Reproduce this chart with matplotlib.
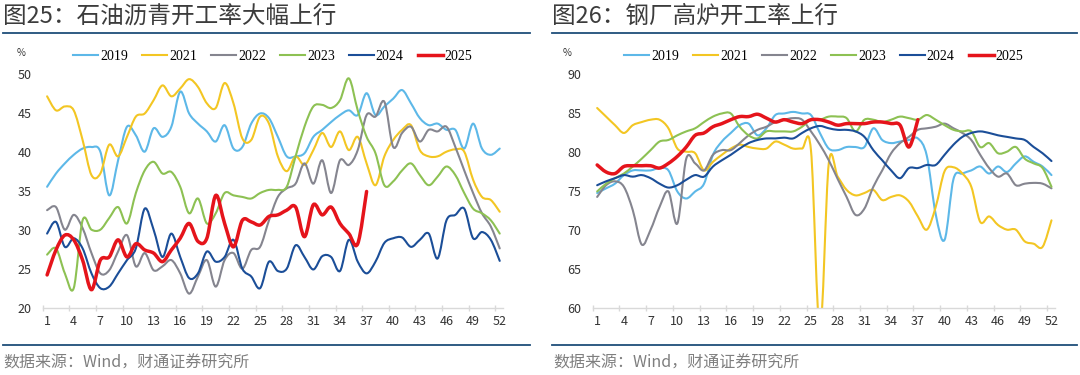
import numpy as np
import matplotlib
matplotlib.use("Agg")
import matplotlib.pyplot as plt
from matplotlib.path import Path
from matplotlib.patches import PathPatch
from matplotlib.lines import Line2D

plt.rcParams['font.family'] = ['Noto Sans CJK SC', 'DejaVu Sans']

# -------------------------------
# Data (weekly, %)
# -------------------------------

weeks = list(range(1, 53))
week_ticks = list(range(1, 53, 3))
years = ["2019", "2021", "2022", "2023", "2024", "2025"]

# 石油沥青开工率
asphalt_2019 = [35.5, 37.2, 38.5, 39.6, 40.4, 40.6, 40.0, 34.4, 38.9, 43.2,
                42.1, 40.0, 43.0, 41.9, 43.2, 47.7, 44.9, 43.6, 42.6, 41.3,
                43.4, 40.4, 40.6, 43.6, 44.9, 44.3, 41.9, 39.4, 39.4, 39.8,
                41.9, 42.8, 43.8, 44.7, 45.3, 44.7, 47.5, 44.7, 45.8, 46.8,
                47.9, 46.2, 44.3, 43.4, 43.6, 42.8, 42.8, 40.4, 43.6, 40.4,
                39.6, 40.4]
asphalt_2021 = [47.1, 45.3, 45.8, 45.3, 41.5, 37.0, 37.2, 40.9, 39.4, 41.9,
                44.5, 44.9, 46.6, 48.5, 47.1, 48.1, 49.3, 48.3, 46.2, 45.6,
                48.8, 46.2, 41.7, 41.5, 44.5, 43.6, 39.4, 37.5, 39.4, 38.3,
                40.2, 42.4, 40.6, 42.6, 40.2, 41.9, 38.5, 35.7, 39.4, 41.5,
                42.8, 43.4, 40.2, 39.4, 39.4, 40.0, 40.3, 40.0, 36.4, 34.2,
                33.8, 32.3]
asphalt_2022 = [32.5, 32.9, 30.0, 31.9, 30.2, 27.0, 24.4, 24.8, 27.2, 29.3,
                25.3, 27.0, 24.8, 25.3, 26.1, 24.4, 21.8, 24.0, 26.1, 22.7,
                26.1, 27.0, 25.0, 27.4, 27.8, 31.2, 34.2, 35.3, 35.9, 38.5,
                35.9, 38.9, 34.7, 38.9, 38.3, 40.2, 44.7, 44.5, 46.4, 40.6,
                42.4, 43.2, 41.3, 42.8, 42.6, 43.2, 40.6, 37.6, 34.7, 32.1,
                30.4, 27.6]
asphalt_2023 = [26.8, 27.6, 24.4, 22.5, 31.2, 30.0, 30.0, 31.5, 32.9, 30.8,
                34.7, 37.6, 38.7, 37.2, 37.4, 35.5, 32.1, 34.0, 30.8, 32.1,
                34.7, 34.4, 34.2, 34.0, 34.7, 35.1, 35.1, 35.5, 39.4, 43.2,
                45.8, 46.0, 45.6, 46.6, 49.4, 45.3, 41.9, 39.8, 35.7, 36.2,
                37.6, 38.5, 37.0, 35.7, 36.8, 38.1, 37.0, 34.7, 32.7, 32.1,
                31.2, 29.5]
asphalt_2024 = [29.5, 31.0, 27.8, 28.9, 27.6, 24.4, 22.5, 22.7, 24.4, 26.1,
                27.6, 32.7, 30.0, 26.5, 29.5, 26.5, 23.8, 24.4, 27.2, 25.9,
                26.5, 28.7, 25.0, 24.0, 22.5, 25.9, 24.7, 25.0, 28.0, 26.5,
                24.9, 26.6, 26.5, 24.7, 28.7, 25.9, 24.4, 25.9, 28.3, 28.9,
                29.0, 27.8, 28.7, 29.5, 26.3, 31.2, 31.9, 32.7, 28.9, 29.7,
                28.7, 26.0]
asphalt_2025 = [24.2, 27.4, 29.3, 28.7, 26.1, 22.3, 26.1, 26.5, 28.7, 26.5,
                28.2, 27.4, 27.0, 25.9, 27.4, 28.9, 30.8, 28.5, 28.9, 34.4,
                30.8, 27.8, 31.2, 31.0, 30.6, 31.7, 31.9, 32.5, 32.9, 29.1,
                33.2, 31.9, 32.9, 30.8, 29.5, 28.2, 34.9]

# 钢厂高炉开工率
blast_2019 = [74.7, 75.3, 75.9, 77.0, 77.6, 77.6, 77.6, 77.9, 77.6, 74.9,
              74.0, 74.9, 75.9, 79.6, 81.3, 82.4, 83.4, 83.6, 82.1, 83.0,
              84.7, 84.9, 85.1, 84.9, 84.7, 82.4, 80.4, 80.2, 80.6, 80.6,
              80.6, 83.0, 81.5, 81.1, 81.3, 81.5, 81.7, 79.5, 72.0, 68.7,
              76.5, 77.2, 77.6, 78.1, 77.2, 78.1, 77.4, 78.5, 79.4, 78.7,
              78.1, 77.0]
blast_2021 = [85.6, 84.5, 83.4, 82.4, 83.4, 83.8, 84.1, 84.1, 83.0, 80.4,
              80.0, 79.8, 77.6, 78.7, 79.6, 80.4, 80.9, 80.6, 80.4, 80.4,
              81.3, 80.9, 80.4, 80.4, 80.2, 57.0, 78.5, 76.8, 75.1, 74.4,
              74.7, 75.1, 73.8, 74.2, 74.4, 73.6, 71.7, 70.0, 72.9, 77.5,
              78.0, 77.2, 75.5, 71.0, 71.7, 70.6, 70.0, 70.0, 68.5, 68.2,
              67.8, 71.2]
blast_2022 = [74.2, 75.7, 76.2, 75.5, 72.5, 68.1, 70.0, 72.9, 74.9, 70.8,
              79.1, 78.5, 77.6, 79.6, 80.2, 80.2, 81.1, 82.1, 82.8, 83.2,
              83.8, 84.1, 84.3, 84.1, 82.6, 80.9, 78.9, 76.5, 74.2, 71.9,
              72.7, 75.5, 77.6, 79.8, 81.1, 81.9, 82.8, 83.0, 83.2, 83.6,
              83.0, 82.4, 81.5, 79.6, 77.9, 76.8, 77.2, 75.7, 75.9, 76.0,
              75.9, 75.3]
blast_2023 = [74.9, 75.9, 76.6, 77.2, 78.1, 79.1, 80.2, 81.3, 81.5, 82.1,
              82.6, 83.0, 83.8, 84.5, 84.9, 84.9, 83.2, 82.1, 81.7, 82.6,
              82.6, 82.6, 82.6, 83.2, 84.1, 84.1, 84.5, 84.5, 84.3, 82.6,
              84.1, 84.1, 83.8, 84.1, 84.5, 84.3, 84.1, 84.7, 84.1, 83.4,
              82.8, 82.6, 82.6, 80.6, 81.1, 79.8, 80.0, 80.6, 79.1, 78.5,
              77.9, 75.5]
blast_2024 = [75.7, 76.2, 76.6, 77.0, 76.8, 77.0, 76.6, 75.9, 75.4, 75.7,
              76.4, 77.0, 76.8, 78.1, 78.9, 79.6, 80.4, 81.1, 81.5, 81.7,
              81.7, 81.8, 81.7, 82.4, 83.0, 83.3, 83.0, 82.8, 82.8, 82.6,
              81.9, 80.2, 78.9, 77.6, 76.6, 77.9, 77.9, 78.3, 78.3, 79.6,
              80.9, 81.9, 82.4, 82.6, 82.4, 82.1, 81.9, 81.7, 81.5, 80.6,
              79.8, 78.8]
blast_2025 = [78.3, 77.4, 77.2, 78.1, 78.2, 78.2, 78.2, 77.9, 78.5, 79.4,
              80.6, 82.1, 82.4, 83.2, 83.6, 84.1, 84.5, 84.5, 84.8, 84.3,
              83.8, 84.1, 83.8, 83.6, 84.1, 84.1, 83.8, 83.4, 83.6, 83.6,
              83.6, 83.8, 83.8, 83.6, 83.4, 80.6, 84.1]

asphalt_series = [asphalt_2019, asphalt_2021, asphalt_2022,
                  asphalt_2023, asphalt_2024, asphalt_2025]
blast_series = [blast_2019, blast_2021, blast_2022,
                blast_2023, blast_2024, blast_2025]

colors = ["#5db8e8", "#f3c623", "#85858f", "#8dc153", "#1b4e98", "#e5141b"]
widths = [1.5, 1.5, 1.5, 1.5, 1.5, 2.5]


# -------------------------------
# Smoothed line (Excel style)
# -------------------------------

def smooth_path(x, y):
    pts = np.column_stack([np.asarray(x, float), np.asarray(y, float)])
    n = len(pts)
    verts = [pts[0]]
    codes = [Path.MOVETO]
    for i in range(n - 1):
        p0 = pts[max(i - 1, 0)]
        p1 = pts[i]
        p2 = pts[i + 1]
        p3 = pts[min(i + 2, n - 1)]
        verts += [p1 + (p2 - p0) / 6, p2 - (p3 - p1) / 6, p2]
        codes += [Path.CURVE4] * 3
    return Path(verts, codes)


def draw_panel(ax, series, ylim, yticks):
    for vals, c, lw in zip(series, colors, widths):
        path = smooth_path(weeks[:len(vals)], vals)
        ax.add_patch(PathPatch(path, fill=False, edgecolor=c, lw=lw,
                               capstyle="round", joinstyle="round"))
    ax.set_xlim(0.55, 52.4)
    ax.set_ylim(*ylim)
    ax.set_yticks(yticks)
    ax.set_xticks(week_ticks)
    ax.set_xticks([w - 0.5 for w in week_ticks], minor=True)
    for s in ["left", "right", "top"]:
        ax.spines[s].set_visible(False)
    ax.spines["bottom"].set_color("#d9d9d9")
    ax.spines["bottom"].set_linewidth(1)
    ax.tick_params(axis="x", which="major", length=0, pad=5,
                   labelsize=9, labelcolor="#333333")
    ax.tick_params(axis="x", which="minor", length=4, direction="inout",
                   color="#d9d9d9", width=1)
    ax.tick_params(axis="y", length=0, pad=8, labelsize=9,
                   labelcolor="#333333")

    handles = [Line2D([], [], color=c, lw=lw) for c, lw in zip(colors, widths)]
    ax.legend(handles, years, loc="center", bbox_to_anchor=(0.5, 1.075),
              ncol=6, frameon=False, handlelength=1.8, handletextpad=0.15,
              columnspacing=1.0, prop={"family": "Liberation Serif", "size": 10})


# -------------------------------
# Figure
# -------------------------------

fig = plt.figure(figsize=(10.8, 3.75), dpi=100)

ax1 = fig.add_axes([0.0395, 0.1795, 0.4265, 0.624])
ax2 = fig.add_axes([0.5488, 0.1795, 0.4281, 0.624])

draw_panel(ax1, asphalt_series, (20, 50), range(20, 51, 5))
draw_panel(ax2, blast_series, (60, 90), range(60, 91, 5))

rule = "#1f4e79"
H = 375.0
W = 1080.0
for x0, x1 in [(3, 530), (552, 1077)]:
    fig.add_artist(Line2D([x0 / W, x1 / W], [1 - 33 / H, 1 - 33 / H],
                          transform=fig.transFigure, color=rule, lw=1.3))
    fig.add_artist(Line2D([x0 / W, x1 / W], [1 - 345 / H, 1 - 345 / H],
                          transform=fig.transFigure, color=rule, lw=1.3))

fig.text(3 / W, 1 - 16 / H, "图25：石油沥青开工率大幅上行", fontsize=17,
         color="#3c3c3c", va="center", ha="left")
fig.text(552 / W, 1 - 16 / H, "图26：钢厂高炉开工率上行", fontsize=17,
         color="#3c3c3c", va="center", ha="left")

fig.text(17 / W, 1 - 53 / H, "%", fontsize=7, color="#333333", va="center")
fig.text(563 / W, 1 - 53 / H, "%", fontsize=7, color="#333333", va="center")

fig.text(3 / W, 1 - 363 / H, "数据来源：Wind，财通证券研究所", fontsize=11.5,
         color="#7f7f7f", va="center", ha="left")
fig.text(553 / W, 1 - 363 / H, "数据来源：Wind，财通证券研究所", fontsize=11.5,
         color="#7f7f7f", va="center", ha="left")

fig.savefig("out.png", dpi=100)
